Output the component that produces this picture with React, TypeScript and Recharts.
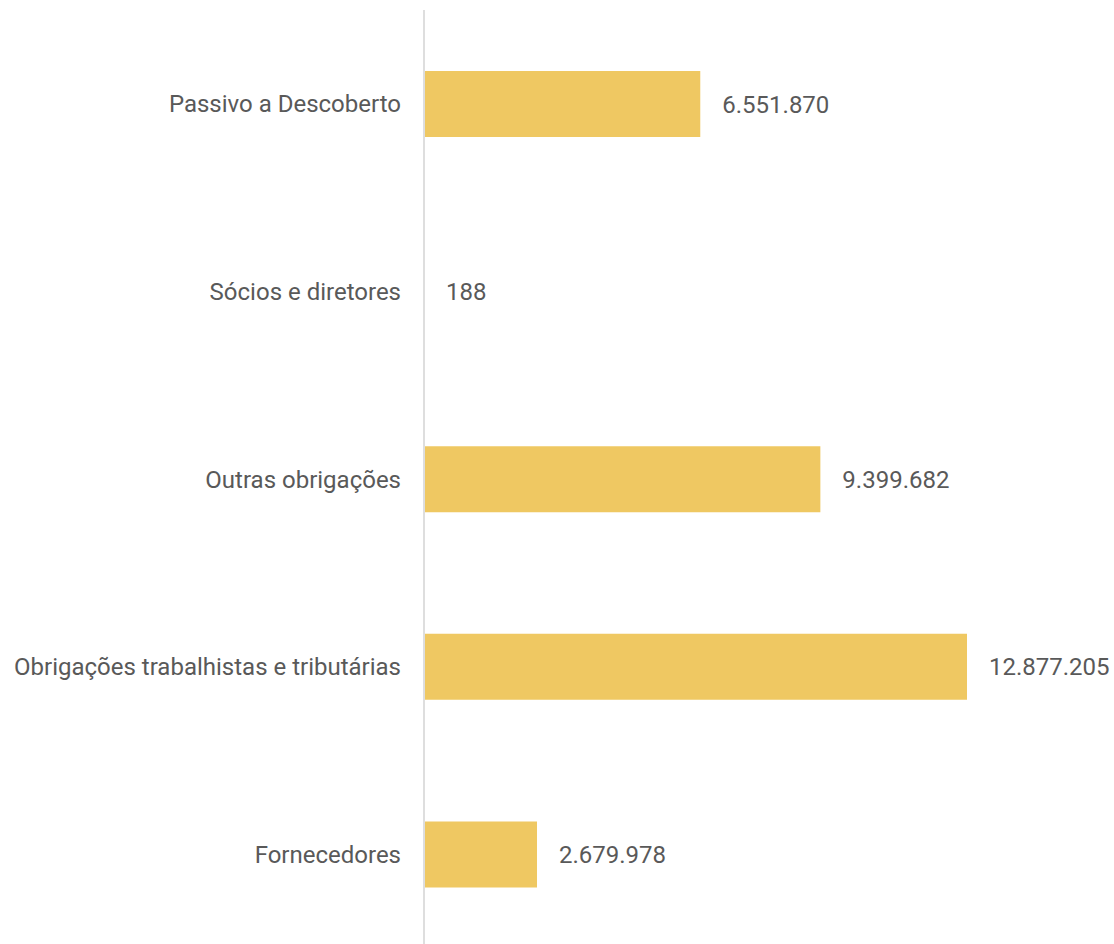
import { BarChart, Bar, XAxis, YAxis, LabelList } from "recharts";

const categories = [
  "Passivo a Descoberto",
  "Sócios e diretores",
  "Outras obrigações",
  "Obrigações trabalhistas e tributárias",
  "Fornecedores",
];

const values = [6551870, 188, 9399682, 12877205, 2679978];

const data = categories.map((name, i) => ({ name, value: values[i] }));

const fmt = (v: number) => Number(v).toLocaleString("pt-BR");

export default function App() {
  return (
    <div
      style={{
        position: "fixed",
        left: 0,
        top: 0,
        width: 1114,
        height: 944,
        overflow: "hidden",
        background: "#fff",
      }}
    >
      <BarChart
        width={1114}
        height={948}
        data={data}
        layout="vertical"
        margin={{ top: 10, right: 147, bottom: 0, left: 0 }}
      >
        <XAxis type="number" domain={[0, "dataMax"]} hide />
        <YAxis
          type="category"
          dataKey="name"
          width={424}
          tickLine={false}
          tickSize={0}
          tickMargin={23}
          axisLine={{ stroke: "#dedede", strokeWidth: 2 }}
          tick={{ fill: "#595959", fontSize: 24, fontFamily: "Roboto" }}
        />
        <Bar
          dataKey="value"
          fill="#EFC862"
          barSize={66}
          isAnimationActive={false}
        >
          <LabelList
            dataKey="value"
            position="right"
            offset={22}
            formatter={(v: any) => fmt(v)}
            style={{ fill: "#595959", fontSize: 24, fontFamily: "Roboto" }}
          />
        </Bar>
      </BarChart>
    </div>
  );
}
